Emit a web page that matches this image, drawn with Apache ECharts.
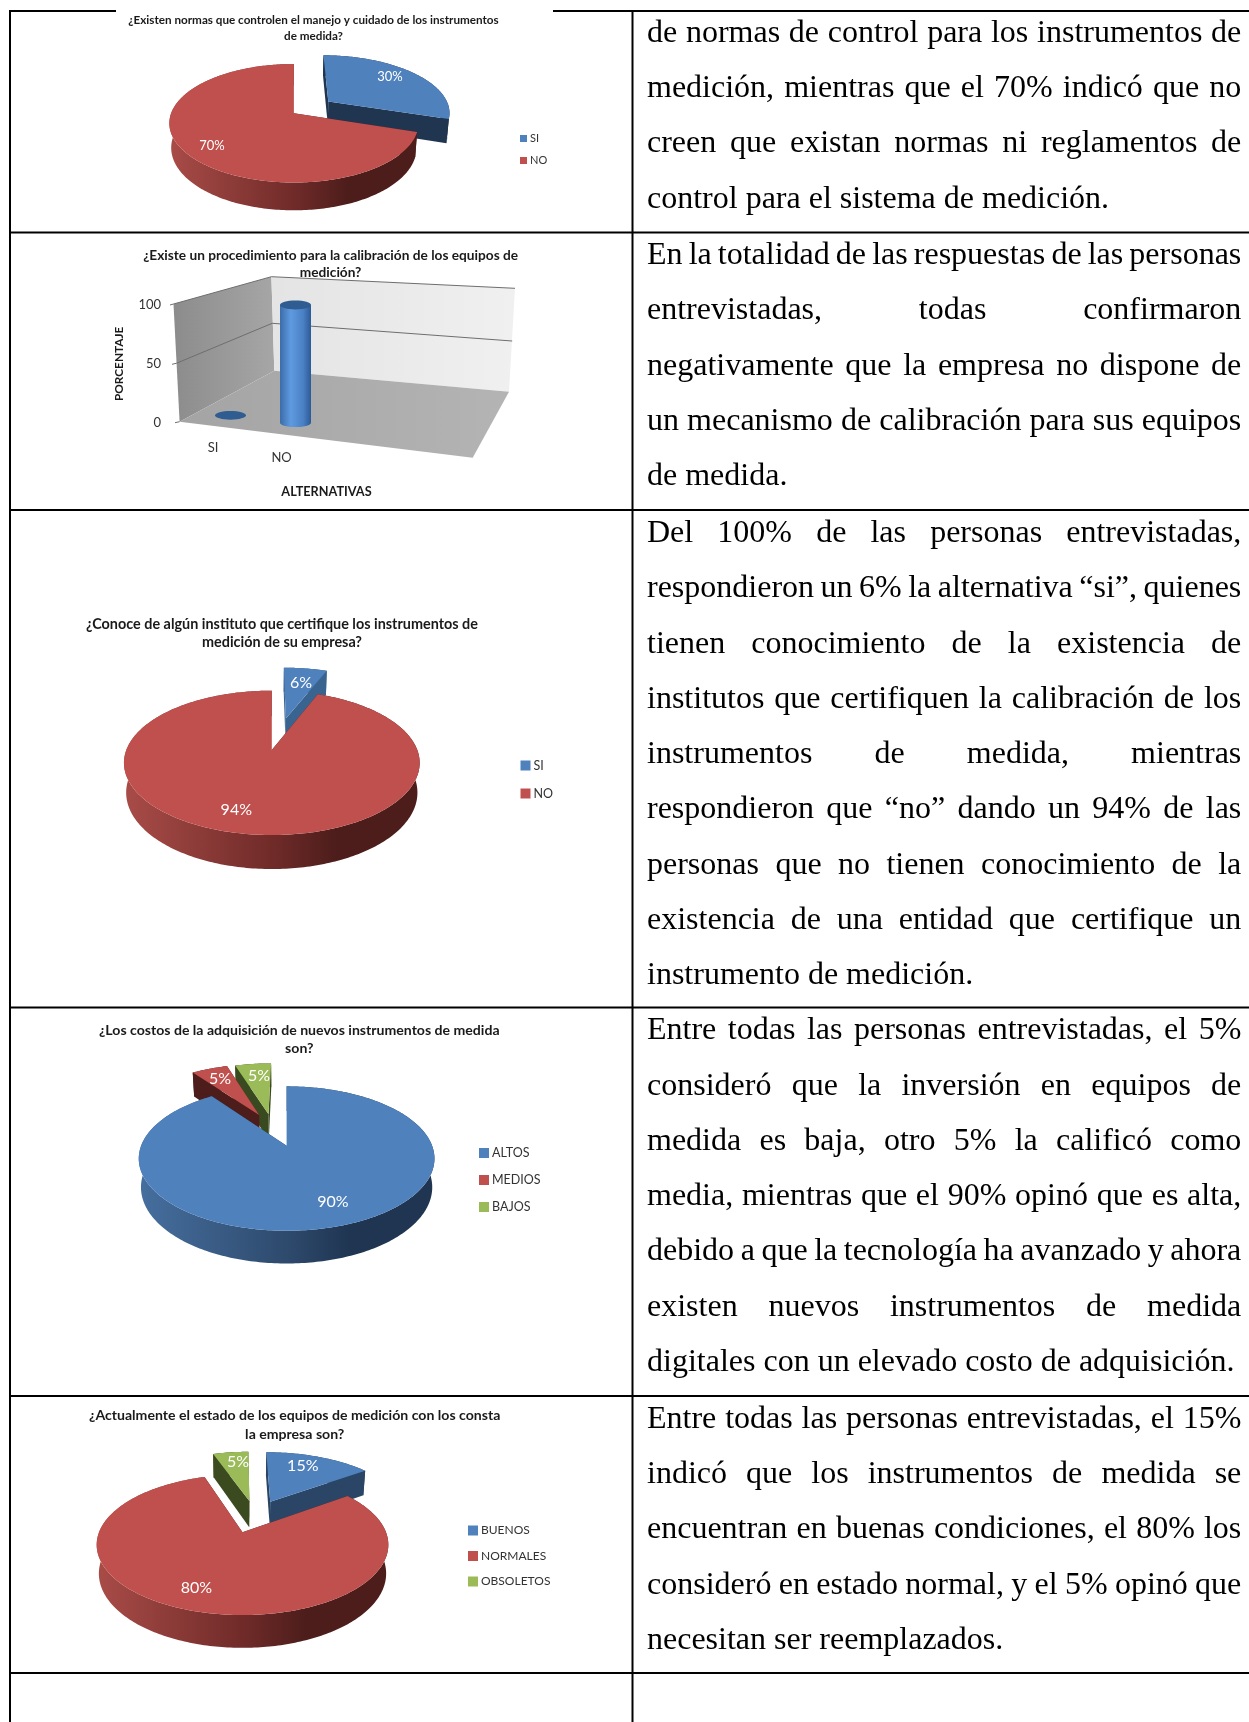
<!DOCTYPE html>
<html lang="es">
<head>
<meta charset="utf-8">
<title>Instrumentos de medición</title>
<script src="https://cdn.jsdelivr.net/npm/echarts@6/dist/echarts.min.js"></script>
<style>
  html, body { margin: 0; padding: 0; background: #fff; }
  #chart { width: 1249px; height: 1722px; }
</style>
</head>
<body>
<div id="chart"></div>
<script>
// Survey answers
const normasCategories = ['SI', 'NO'];
const normasValues = [30, 70];
const calibracionCategories = ['SI', 'NO'];
const calibracionValues = [0, 100];
const calibracionTicks = [0, 50, 100];
const institutoCategories = ['SI', 'NO'];
const institutoValues = [6, 94];
const costosCategories = ['ALTOS', 'MEDIOS', 'BAJOS'];
const costosValues = [90, 5, 5];
const estadoCategories = ['BUENOS', 'NORMALES', 'OBSOLETOS'];
const estadoValues = [15, 80, 5];

// Right-hand column, line by line; the last line of each cell is left-aligned
const cellTexts = [
  { first: 41.7, lines: [
    'de normas de control para los instrumentos de',
    'medición, mientras que el 70% indicó que no',
    'creen que existan normas ni reglamentos de',
    'control para el sistema de medición.'] },
  { first: 264, lines: [
    'En la totalidad de las respuestas de las personas',
    'entrevistadas, todas confirmaron',
    'negativamente que la empresa no dispone de',
    'un mecanismo de calibración para sus equipos',
    'de medida.'] },
  { first: 542, lines: [
    'Del 100% de las personas entrevistadas,',
    'respondieron un 6% la alternativa “si”, quienes',
    'tienen conocimiento de la existencia de',
    'institutos que certifiquen la calibración de los',
    'instrumentos de medida, mientras',
    'respondieron que “no” dando un 94% de las',
    'personas que no tienen conocimiento de la',
    'existencia de una entidad que certifique un',
    'instrumento de medición.'] },
  { first: 1039.3, lines: [
    'Entre todas las personas entrevistadas, el 5%',
    'consideró que la inversión en equipos de',
    'medida es baja, otro 5% la calificó como',
    'media, mientras que el 90% opinó que es alta,',
    'debido a que la tecnología ha avanzado y ahora',
    'existen nuevos instrumentos de medida',
    'digitales con un elevado costo de adquisición.'] },
  { first: 1427.7, lines: [
    'Entre todas las personas entrevistadas, el 15%',
    'indicó que los instrumentos de medida se',
    'encuentran en buenas condiciones, el 80% los',
    'consideró en estado normal, y el 5% opinó que',
    'necesitan ser reemplazados.'] }
];

const BLUE = '#4f81bd', RED = '#c0504d', GREEN = '#9bbb59';
const RED_RAMP = [[0, '#a94c48'], [0.5, '#702b29'], [0.72, '#4c1d1b'], [1, '#4c1d1b']];
const BLUE_RAMP = [[0, '#466f9f'], [0.5, '#2e4a6d'], [0.72, '#1f3551'], [1, '#1f3551']];

// Tilted pies: p is the perspective strength, off the exploded shift in the pie plane,
// order the painter's order (far slices first)
const pies = [
  { categories: normasCategories, values: normasValues,
    cx: 293.9, cy: 113.3, R: 122.8, Rc: 57.6, p: 0.168, d: 24, k: 0.985, labelSize: 13,
    slices: [
      { color: BLUE, wall: '#1f3550', off: [0.29, -0.212], label: [390, 77] },
      { color: RED, ramp: RED_RAMP, wall: '#4c1d1b', off: [0, 0], label: [212, 146] }],
    order: [0, 1],
    title: { text: '¿Existen normas que controlen el manejo y cuidado de los instrumentos\nde medida?', x: 313.5, y: 20.7, size: 11.7, lh: 16 },
    legend: { x: 520, y: 133, size: 11, gap: 11, box: 7 } },
  { categories: institutoCategories, values: institutoValues,
    cx: 271.8, cy: 750, R: 145.5, Rc: 69.9, p: 0.178, d: 29, k: 0.985, labelSize: 16,
    slices: [
      { color: BLUE, wall: '#3a6490', off: [0.105, -0.49], label: [301, 683.3] },
      { color: RED, ramp: RED_RAMP, wall: '#4c1d1b', off: [0, 0], label: [236.3, 810] }],
    order: [0, 1],
    title: { text: '¿Conoce de algún instituto que certifique los instrumentos de\nmedición de su empresa?', x: 282, y: 624, size: 14.4, lh: 18.7 },
    legend: { x: 520.5, y: 759, size: 12.5, gap: 15, box: 10 } },
  { categories: costosCategories, values: costosValues,
    cx: 286.6, cy: 1145.7, R: 145.5, Rc: 69.9, p: 0.178, d: 28, k: 0.985, labelSize: 16,
    slices: [
      { color: BLUE, ramp: BLUE_RAMP, wall: '#1f3551', off: [0, 0], label: [333, 1202.3] },
      { color: RED, wall: '#4c1d1b', off: [-0.205, -0.477], label: [220, 1079] },
      { color: GREEN, wall: '#3a4a20', off: [-0.135, -0.49], label: [259, 1075.7] }],
    order: [2, 1, 0],
    title: { text: '¿Los costos de la adquisición de nuevos instrumentos de medida\nson?', x: 299.3, y: 1030, size: 14.1, lh: 18.3 },
    legend: { x: 479, y: 1146.5, size: 12.5, gap: 14, box: 10 } },
  { categories: estadoCategories, values: estadoValues,
    cx: 242.5, cy: 1532.3, R: 143.5, Rc: 68, p: 0.178, d: 28, k: 0.985, labelSize: 16,
    slices: [
      { color: BLUE, wall: '#2a4565', off: [0.21, -0.49], label: [302.8, 1466] },
      { color: RED, ramp: RED_RAMP, wall: '#4c1d1b', off: [0, 0], label: [196.4, 1587.7] },
      { color: GREEN, wall: '#3b4a1f', off: [0.052, -0.5], label: [238, 1461.7] }],
    order: [2, 0, 1],
    title: { text: '¿Actualmente el estado de los equipos de medición con los consta\nla empresa son?', x: 294.7, y: 1415, size: 14.1, lh: 19 },
    legend: { x: 468, y: 1524.5, size: 12, gap: 13.5, box: 10 } }
];

const TITLE_FONT = 'Lato';

// Projects a point of the tilted pie onto the page
function project(g, theta, off, drop, k) {
  const u = Math.sin(theta) + off[0];
  const v = -Math.cos(theta) + off[1];
  const s = 1 / (1 - g.p * v);
  return [g.cx + g.R * u * s * k, g.cy + g.Rc * v * s * k + drop * s];
}
function apexOf(g, off, drop, k) {
  const s = 1 / (1 - g.p * off[1]);
  return [g.cx + g.R * off[0] * s * k, g.cy + g.Rc * off[1] * s * k + drop * s];
}
function arcPoints(g, a0, a1, off, drop, k) {
  const pts = [];
  const steps = Math.max(4, Math.ceil((a1 - a0) / (Math.PI / 180)));
  for (let i = 0; i <= steps; i++) {
    pts.push(project(g, a0 + (a1 - a0) * i / steps, off, drop, k));
  }
  return pts;
}

function pieSliceSeries(g, idx) {
  const total = g.values.reduce((a, b) => a + b, 0);
  let before = 0;
  for (let i = 0; i < idx; i++) before += g.values[i];
  const a0 = before / total * Math.PI * 2;
  const a1 = (before + g.values[idx]) / total * Math.PI * 2;
  const slice = g.slices[idx];
  return {
    type: 'custom',
    name: g.categories[idx],
    coordinateSystem: 'none',
    silent: true,
    animation: false,
    itemStyle: { color: slice.color },
    data: [g.values[idx]],
    renderItem: function (params, api) {
      const value = api.value(0);
      const off = slice.off;
      const apexTop = apexOf(g, off, 0, 1);
      const apexLow = apexOf(g, off, g.d, g.k);
      const radial = function (a) {
        return { type: 'polygon', shape: { points: [apexTop, project(g, a, off, 0, 1), project(g, a, off, g.d, g.k), apexLow] },
                 style: { fill: slice.wall } };
      };
      const topArc = arcPoints(g, a0, a1, off, 0, 1);
      const lowArc = arcPoints(g, a0, a1, off, g.d, g.k).reverse();
      const arcFill = slice.ramp
        ? new echarts.graphic.LinearGradient(g.cx - g.R * 1.02, 0, g.cx + g.R * 1.02, 0,
            slice.ramp.map(function (r) { return { offset: r[0], color: r[1] }; }), true)
        : slice.wall;
      return {
        type: 'group',
        children: [
          radial(a0),
          radial(a1),
          { type: 'polygon', shape: { points: topArc.concat(lowArc) }, style: { fill: arcFill } },
          { type: 'polygon', shape: { points: [apexTop].concat(topArc) }, style: { fill: slice.color } },
          { type: 'text', style: { x: slice.label[0], y: slice.label[1], text: value + '%', fill: '#fff',
              font: g.labelSize + 'px ' + TITLE_FONT, align: 'center', verticalAlign: 'middle' } }
        ]
      };
    }
  };
}

// Column-chart scenery: wall and floor panels of the 3-D box
const boxPanels = [
  { points: [[173.5, 304], [271.4, 276.7], [274.3, 370.7], [179.6, 421.7]],
    fill: ['#8c8c8c', '#a6a6a6'] },
  { points: [[271.4, 276.7], [515, 288.3], [509, 391.7], [274.3, 370.7]],
    fill: ['#e4e4e4', '#f0f0f0'] },
  { points: [[179.6, 421.7], [274.3, 370.7], [509, 391.7], [472.7, 457.7]],
    fill: ['#a4a4a4', '#b4b4b4'] }
];
const boxRules = [
  [[170, 305], [173.5, 304], [271.4, 276.7], [515, 288.3]],
  [[172, 364.3], [176.3, 363.3], [272.2, 323.3], [512.2, 341]],
  [[175, 422.7], [179.6, 421.7]]
];
const columnLayout = { baseShift: [-7.4, 0], labelPos: [[213, 448], [281.6, 458]], rx: 15.5, ry: 4.4 };

function columnRender(params, api) {
  const i = params.dataIndex;
  const value = api.value(1);
  const base = api.coord([i, 0]);
  const top = api.coord([i, value]);
  const dy = columnLayout.baseShift[i];
  const rx = columnLayout.rx, ry = columnLayout.ry;
  const x = base[0], y0 = base[1] + dy, y1 = top[1] + dy;
  const kids = [];
  if (value > 0) {
    const pts = [[x - rx, y1]];
    for (let a = 180; a >= 0; a -= 6) {
      pts.push([x + rx * Math.cos(a * Math.PI / 180), y0 + ry * Math.sin(a * Math.PI / 180)]);
    }
    pts.push([x + rx, y1]);
    kids.push({ type: 'polygon', shape: { points: pts }, style: {
      fill: new echarts.graphic.LinearGradient(0, 0, 1, 0, [
        { offset: 0, color: '#3c6ca8' }, { offset: 0.35, color: '#5f9ae0' },
        { offset: 0.75, color: '#4a80c4' }, { offset: 1, color: '#2c5a96' }]) } });
  }
  kids.push({ type: 'ellipse', shape: { cx: x, cy: y1, rx: rx, ry: ry }, style: { fill: '#2f5d92' } });
  kids.push({ type: 'text', style: { x: columnLayout.labelPos[i][0], y: columnLayout.labelPos[i][1],
    text: calibracionCategories[i], fill: '#333', font: '13px ' + TITLE_FONT, align: 'center', verticalAlign: 'middle' } });
  return { type: 'group', children: kids };
}

// Table rules
const RULE_X = [10, 632.5];
const RULE_Y = [232.5, 510, 1007.5, 1396, 1673];
const graphicItems = [];
function rule(x, y, w, h) {
  graphicItems.push({ type: 'rect', shape: { x: x, y: y, width: w, height: h }, style: { fill: '#000' }, silent: true });
}
RULE_X.forEach(function (x) { rule(x - 1, 10, 2, 1712); });
RULE_Y.forEach(function (y) { rule(9, y - 1, 1240, 2); });
rule(9, 10, 107, 2);
rule(553, 10, 696, 2);

boxPanels.forEach(function (p) {
  graphicItems.push({ type: 'polygon', shape: { points: p.points }, silent: true, style: {
    fill: new echarts.graphic.LinearGradient(0, 0, 1, 0, [{ offset: 0, color: p.fill[0] }, { offset: 1, color: p.fill[1] }]) } });
});
boxRules.forEach(function (pts) {
  graphicItems.push({ type: 'polyline', shape: { points: pts }, silent: true, style: { stroke: '#6e6e6e', lineWidth: 1, fill: null } });
});

// Justified paragraphs in the right-hand column
const BODY_SIZE = 32, BODY_FONT = BODY_SIZE + 'px "Liberation Serif"';
const BODY_LEFT = 647, BODY_RIGHT = 1241.3, LINE_STEP = 55.25, BODY_RAISE = 0.757 * BODY_SIZE;
const meter = document.createElement('canvas').getContext('2d');
meter.font = BODY_FONT;
function bodyText(x, y, text) {
  graphicItems.push({ type: 'text', silent: true, z: 5, style: { x: x, y: y - BODY_RAISE, text: text, fill: '#000', font: BODY_FONT, align: 'left', verticalAlign: 'top' } });
}
cellTexts.forEach(function (cell) {
  cell.lines.forEach(function (line, n) {
    const y = cell.first + n * LINE_STEP;
    const closing = n === cell.lines.length - 1;
    if (closing) { bodyText(BODY_LEFT, y, line); return; }
    const words = line.split(' ');
    const widths = words.map(function (w) { return meter.measureText(w).width; });
    const used = widths.reduce(function (a, b) { return a + b; }, 0);
    const gap = (BODY_RIGHT - BODY_LEFT - used) / (words.length - 1);
    let x = BODY_LEFT;
    words.forEach(function (w, j) { bodyText(x, y, w); x += widths[j] + gap; });
  });
});

// Chart titles and legends
const titles = pies.map(function (g) {
  return { text: g.title.text, left: g.title.x, top: g.title.y - g.title.lh / 2, textAlign: 'center', padding: 0,
    textStyle: { fontFamily: TITLE_FONT, fontWeight: 'bold', fontSize: g.title.size, lineHeight: g.title.lh, color: '#1a1a1a' } };
});
titles.push({ text: '¿Existe un procedimiento para la calibración de los equipos de\nmedición?', left: 330.6, top: 247.6, textAlign: 'center', padding: 0, z: 6,
  textStyle: { fontFamily: TITLE_FONT, fontWeight: 'bold', fontSize: 13.7, lineHeight: 16.7, color: '#1a1a1a' } });

const legends = pies.map(function (g) {
  return { data: g.categories.slice(), left: g.legend.x, top: g.legend.y, orient: 'vertical', icon: 'rect', selectedMode: false, padding: 0,
    itemWidth: g.legend.box, itemHeight: g.legend.box, itemGap: g.legend.gap,
    textStyle: { fontFamily: TITLE_FONT, fontSize: g.legend.size, color: '#333', padding: [0, 0, 0, -2] } };
});

const pieSeries = [];
pies.forEach(function (g) {
  g.order.forEach(function (idx) { pieSeries.push(pieSliceSeries(g, idx)); });
});

const chart = echarts.init(document.getElementById('chart'), null, { renderer: 'canvas' });
chart.setOption({
  backgroundColor: '#fff',
  animation: false,
  title: titles,
  legend: legends,
  graphic: { elements: graphicItems },
  grid: { left: 198, top: 305, width: 130, height: 117.7 },
  xAxis: { type: 'category', data: calibracionCategories, axisLine: { show: false }, axisTick: { show: false }, axisLabel: { show: false },
    name: 'ALTERNATIVAS', nameLocation: 'middle', nameGap: 63,
    nameTextStyle: { fontFamily: TITLE_FONT, fontWeight: 'bold', fontSize: 12.7, color: '#1a1a1a', padding: [0, 0, 0, 127] } },
  yAxis: { type: 'value', min: 0, max: 100, interval: 50, splitLine: { show: false }, axisLine: { show: false }, axisTick: { show: false },
    axisLabel: { margin: 37, fontFamily: TITLE_FONT, fontSize: 13, color: '#333', customValues: calibracionTicks },
    name: 'PORCENTAJE', nameLocation: 'middle', nameRotate: 90, nameGap: 73,
    nameTextStyle: { fontFamily: TITLE_FONT, fontWeight: 'bold', fontSize: 11.8, color: '#1a1a1a' } },
  series: [{
    type: 'custom', name: 'Calibración', coordinateSystem: 'cartesian2d', silent: true, animation: false,
    encode: { x: 0, y: 1 },
    data: calibracionValues.map(function (v, i) { return [i, v]; }),
    renderItem: columnRender
  }].concat(pieSeries)
});
</script>
</body>
</html>
